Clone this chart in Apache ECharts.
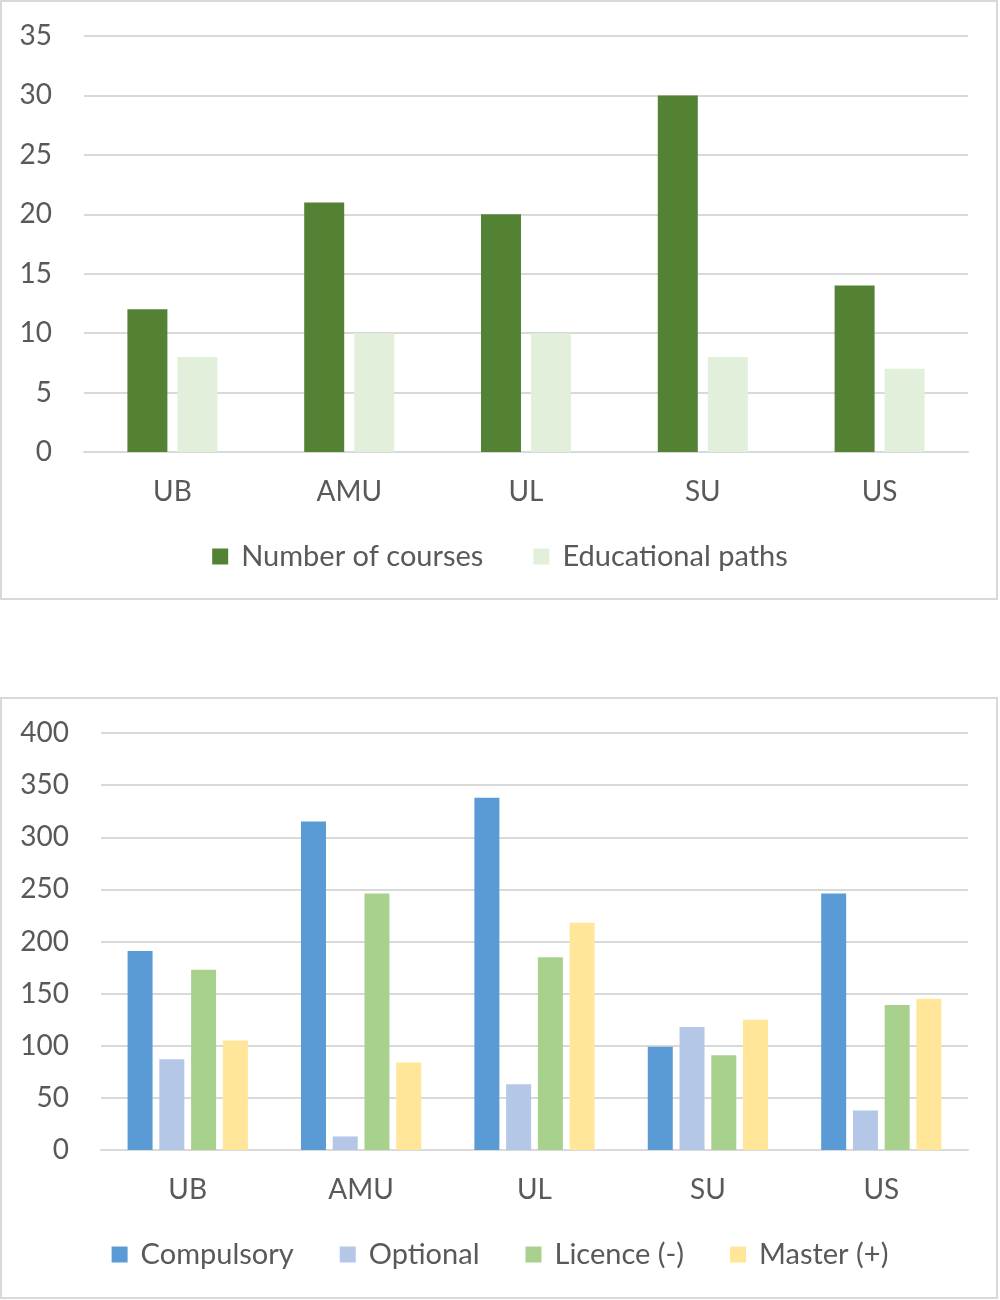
<!DOCTYPE html>
<html>
<head>
<meta charset="utf-8">
<script src="https://cdn.jsdelivr.net/npm/echarts@6/dist/echarts.min.js"></script>
<style>
  html, body { margin: 0; padding: 0; background: #fff; }
  #main { width: 1000px; height: 1300px; }
</style>
</head>
<body>
<div id="main"></div>
<script>
// data
var universities = ['UB', 'AMU', 'UL', 'SU', 'US'];
var numberOfCourses = [12, 21, 20, 30, 14];
var educationalPaths = [8, 10, 10, 8, 7];

var compulsory = [191, 315, 338, 99, 246];
var optional = [87, 13, 63, 118, 38];
var licence = [173, 246, 185, 91, 139];
var master = [105, 84, 218, 125, 145];

var txt = '#595959';
var grid = '#d9d9d9';
var font = 'Lato, "Open Sans", sans-serif';

function catAxis(idx) {
  return {
    type: 'category', gridIndex: idx, data: universities,
    axisLine: { lineStyle: { color: grid, width: 2 } },
    axisTick: { show: false },
    axisLabel: { color: txt, fontSize: 28, fontFamily: font, margin: 26 }
  };
}
function valAxis(idx, max, step) {
  return {
    type: 'value', gridIndex: idx, min: 0, max: max, interval: step,
    axisLine: { show: false }, axisTick: { show: false },
    splitLine: { lineStyle: { color: grid, width: 2 } },
    axisLabel: { color: txt, fontSize: 28, fontFamily: font, margin: 32 }
  };
}
var legendText = { color: txt, fontSize: 29, fontFamily: font, padding: [0, 0, 0, 8] };

var chart = echarts.init(document.getElementById('main'));
chart.setOption({
  backgroundColor: '#fff',
  animation: false,
  graphic: [
    { type: 'rect', shape: { x: 1, y: 1, width: 996, height: 598 }, style: { fill: null, stroke: '#d9d9d9', lineWidth: 2 } },
    { type: 'rect', shape: { x: 1, y: 698, width: 996, height: 600 }, style: { fill: null, stroke: '#d9d9d9', lineWidth: 2 } }
  ],
  grid: [
    { left: 84, right: 32, top: 36, height: 416 },
    { left: 101, right: 32, top: 733, height: 417 }
  ],
  legend: [
    {
      left: 'center', top: 537, itemWidth: 16, itemHeight: 16, itemGap: 50,
      icon: 'rect', textStyle: legendText,
      data: ['Number of courses', 'Educational paths']
    },
    {
      left: 'center', top: 1235, itemWidth: 16, itemHeight: 16, itemGap: 46,
      icon: 'rect', textStyle: legendText,
      data: ['Compulsory', 'Optional', 'Licence (-)', 'Master (+)']
    }
  ],
  xAxis: [catAxis(0), catAxis(1)],
  yAxis: [valAxis(0, 35, 5), valAxis(1, 400, 50)],
  series: [
    { name: 'Number of courses', type: 'bar', xAxisIndex: 0, yAxisIndex: 0, data: numberOfCourses,
      barWidth: 40, barGap: '25%', itemStyle: { color: '#548235' } },
    { name: 'Educational paths', type: 'bar', xAxisIndex: 0, yAxisIndex: 0, data: educationalPaths,
      barWidth: 40, barGap: '25%', itemStyle: { color: '#E2EFDA' } },
    { name: 'Compulsory', type: 'bar', xAxisIndex: 1, yAxisIndex: 1, data: compulsory,
      barWidth: 25, barGap: '27%', itemStyle: { color: '#5B9BD5' } },
    { name: 'Optional', type: 'bar', xAxisIndex: 1, yAxisIndex: 1, data: optional,
      barWidth: 25, barGap: '27%', itemStyle: { color: '#B4C7E7' } },
    { name: 'Licence (-)', type: 'bar', xAxisIndex: 1, yAxisIndex: 1, data: licence,
      barWidth: 25, barGap: '27%', itemStyle: { color: '#A9D18E' } },
    { name: 'Master (+)', type: 'bar', xAxisIndex: 1, yAxisIndex: 1, data: master,
      barWidth: 25, barGap: '27%', itemStyle: { color: '#FFE699' } }
  ]
});
</script>
</body>
</html>
